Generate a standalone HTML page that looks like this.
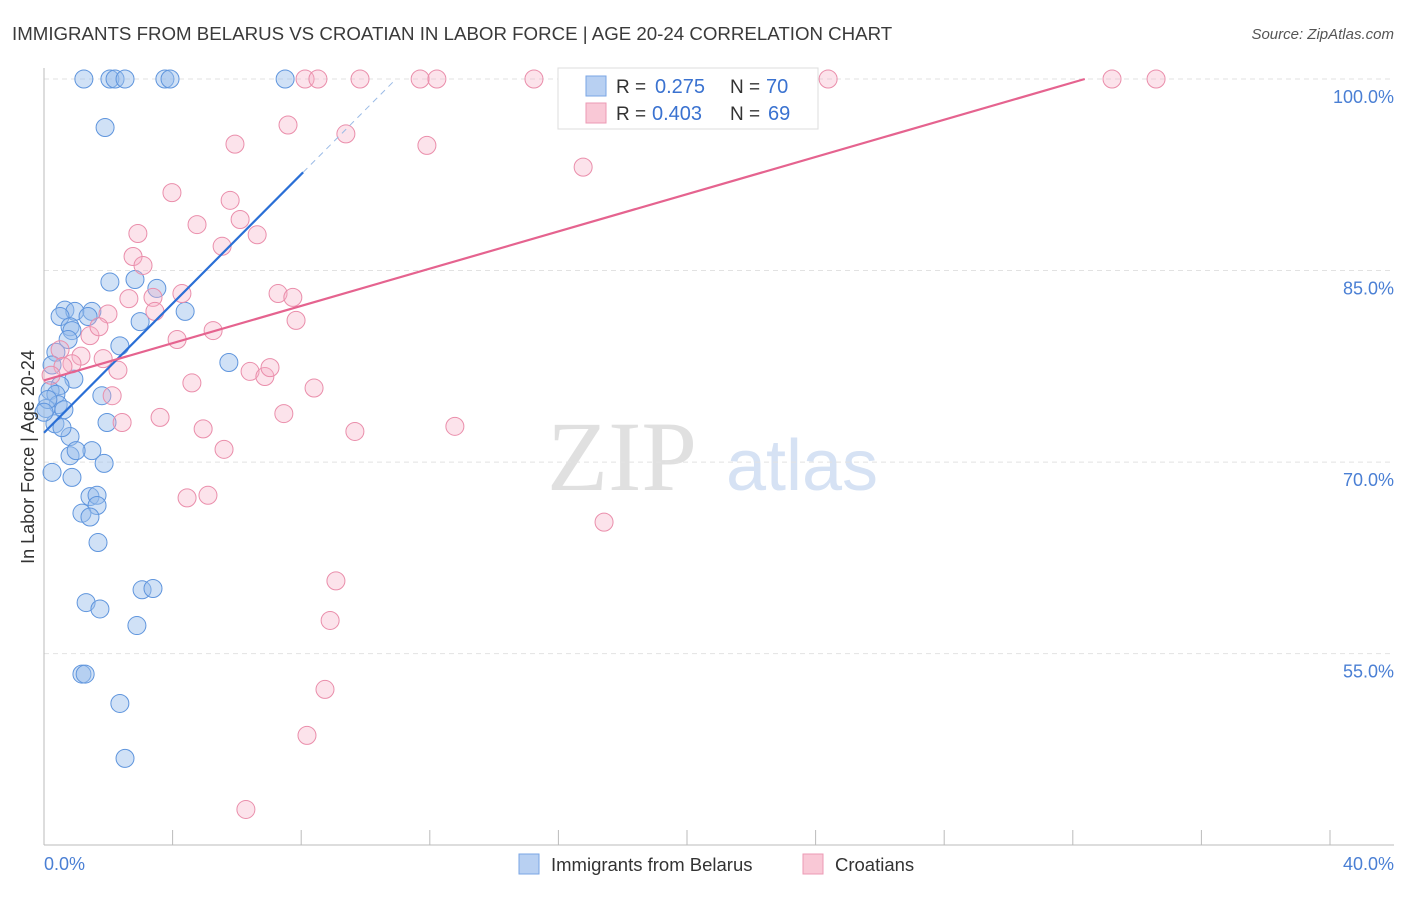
<!DOCTYPE html>
<html><head><meta charset="utf-8"><style>
body{margin:0;background:#fff;font-family:"Liberation Sans",sans-serif;}
</style></head><body>
<svg id="chart" width="1406" height="892" xmlns="http://www.w3.org/2000/svg" style="font-family:'Liberation Sans',sans-serif">
<text x="12" y="40" font-size="18.7" fill="#3a3a3a">IMMIGRANTS FROM BELARUS VS CROATIAN IN LABOR FORCE | AGE 20-24 CORRELATION CHART</text>
<text x="1394" y="39" font-size="15" fill="#555" font-style="italic" text-anchor="end">Source: ZipAtlas.com</text>
<text x="622" y="490" font-size="100" fill="#e0e0e0" font-family="Liberation Serif" text-anchor="middle">ZIP</text>
<text x="802" y="490" font-size="72" fill="#d6e2f4" text-anchor="middle">atlas</text>
<g id="grid"></g><g id="axes"></g><g id="pts"></g><g id="lines"></g>
<text transform="translate(34,457) rotate(-90)" font-size="18" fill="#333" text-anchor="middle">In Labor Force | Age 20-24</text>
<text x="44" y="870" font-size="18" fill="#4a7fd4">0.0%</text>
<text x="1394" y="870" font-size="18" fill="#4a7fd4" text-anchor="end">40.0%</text>
<g>
<rect x="558" y="68" width="260" height="61" fill="#fff" stroke="#ddd"/>
<rect x="586" y="76" width="20" height="20" fill="#b8d0f2" stroke="#7aa6e4"/>
<rect x="586" y="103" width="20" height="20" fill="#f9c8d6" stroke="#ec9ab4"/>
<text x="616" y="93" font-size="19" fill="#333">R =</text>
<text x="655" y="93" font-size="20" fill="#3a72d0">0.275</text>
<text x="730" y="93" font-size="19" fill="#333">N =</text>
<text x="766" y="93" font-size="20" fill="#3a72d0">70</text>
<text x="616" y="120" font-size="19" fill="#333">R =</text>
<text x="652" y="120" font-size="20" fill="#3a72d0">0.403</text>
<text x="730" y="120" font-size="19" fill="#333">N =</text>
<text x="768" y="120" font-size="20" fill="#3a72d0">69</text>
</g>
<g>
<rect x="519" y="854" width="20" height="20" fill="#b8d0f2" stroke="#7aa6e4"/>
<text x="551" y="871" font-size="18.5" fill="#333">Immigrants from Belarus</text>
<rect x="803" y="854" width="20" height="20" fill="#f9c8d6" stroke="#ec9ab4"/>
<text x="835" y="871" font-size="18.5" fill="#333">Croatians</text>
</g>
</svg>
<script>
const yTicks=[100,85,70,55];
const yTickLabels=["100.0%","85.0%","70.0%","55.0%"];
const xTicks=[0,4,8,12,16,20,24,28,32,36,40];
const blueX=[1.24,2.05,2.21,2.52,3.76,3.92,7.50,1.90,2.05,2.83,3.51,4.39,2.99,0.65,0.96,0.50,1.49,0.81,0.87,1.37,2.36,0.75,0.37,0.25,0.93,0.50,0.19,0.37,1.80,0.44,0.06,0.62,0.34,1.96,0.81,0.56,1.49,1.87,0.81,1.00,0.25,0.87,1.43,1.65,1.65,1.18,1.43,1.68,5.75,1.31,1.74,3.05,3.39,2.89,1.18,1.28,2.36,2.52,0.12,0.0];
const blueY=[100,100,100,100,100,100,100,96.2,84.1,84.3,83.6,81.8,81.0,81.9,81.8,81.4,81.8,80.6,80.3,81.4,79.1,79.6,78.6,77.6,76.5,76.0,75.6,75.3,75.2,74.5,74.2,74.1,73.0,73.1,72.0,72.7,70.9,69.9,70.5,70.9,69.2,68.8,67.3,67.4,66.6,66.0,65.7,63.7,77.8,59.0,58.5,60.0,60.1,57.2,53.4,53.4,51.1,46.8,74.9,73.9];
const pinkX=[8.12,8.52,9.83,11.70,12.22,15.24,22.58,24.39,33.22,34.59,7.59,9.39,11.91,5.94,16.77,3.98,5.79,4.76,6.10,2.92,6.63,5.54,2.77,3.08,2.64,3.39,4.29,3.45,1.99,7.28,7.74,7.84,5.26,1.43,1.71,4.14,0.50,1.15,1.84,0.87,0.59,2.30,6.41,6.87,7.03,0.22,4.60,8.40,2.12,3.61,7.46,2.43,4.95,9.67,12.78,5.60,4.45,5.10,17.42,9.08,8.90,8.74,8.18,6.28];
const pinkY=[100,100,100,100,100,100,100,100,100,100,96.4,95.7,94.8,94.9,93.1,91.1,90.5,88.6,89.0,87.9,87.8,86.9,86.1,85.4,82.8,82.9,83.2,81.8,81.6,83.2,82.9,81.1,80.3,79.9,80.6,79.6,78.8,78.3,78.1,77.7,77.5,77.2,77.1,76.7,77.4,76.8,76.2,75.8,75.2,73.5,73.8,73.1,72.6,72.4,72.8,71.0,67.2,67.4,65.3,60.7,57.6,52.2,48.6,42.8];
const blueFit=[72.3,2.53];
const pinkFit=[76.4,0.729];
const NS='http://www.w3.org/2000/svg';
const sx=v=>44+v*32.15, sy=v=>79+(100-v)*12.77;
function mk(t,a,p){const e=document.createElementNS(NS,t);for(const k in a)e.setAttribute(k,a[k]);document.getElementById(p).appendChild(e);return e;}
yTicks.forEach((t,i)=>{
 const l=mk('line',{x1:44,x2:1394,y1:sy(t),y2:sy(t),stroke:'#e2e2e2','stroke-dasharray':'5,4'},'grid');
 
 
 const tx=mk('text',{x:1394,y:sy(t)+24,'font-size':18,fill:'#4a7fd4','text-anchor':'end'},'grid');
 tx.textContent=yTickLabels[i];
 
 
});
let ax=mk('line',{x1:44,x2:44,y1:68,y2:845,stroke:'#bbb'},'axes');


ax=mk('line',{x1:44,x2:1394,y1:845,y2:845,stroke:'#bbb'},'axes');


xTicks.forEach(t=>{
 const l=mk('line',{x1:sx(t),x2:sx(t),y1:830,y2:845,stroke:'#bbb'},'axes');
 
 
});
blueX.forEach((x,i)=>{
 const c=mk('circle',{cx:sx(x),cy:sy(blueY[i]),r:9,fill:'rgba(150,188,236,0.45)',stroke:'#5f95dd','stroke-width':1},'pts');
 
 
});
pinkX.forEach((x,i)=>{
 const c=mk('circle',{cx:sx(x),cy:sy(pinkY[i]),r:9,fill:'rgba(246,176,198,0.35)',stroke:'#ea8eab','stroke-width':1},'pts');
 
 
});
const bEnd=8.06, bDash=(100-blueFit[0])/blueFit[1];
let ln=mk('line',{x1:sx(0),y1:sy(blueFit[0]),x2:sx(bEnd),y2:sy(blueFit[0]+blueFit[1]*bEnd),stroke:'#2a6fd6','stroke-width':2.2},'lines');


ln=mk('line',{x1:sx(bEnd),y1:sy(blueFit[0]+blueFit[1]*bEnd),x2:sx(bDash),y2:sy(100),stroke:'#9bbbe6','stroke-width':1,'stroke-dasharray':'6,5'},'lines');


const pEnd=(100-pinkFit[0])/pinkFit[1];
ln=mk('line',{x1:sx(0),y1:sy(pinkFit[0]),x2:sx(pEnd),y2:sy(100),stroke:'#e5638f','stroke-width':2.2},'lines');


</script>
</body></html>
